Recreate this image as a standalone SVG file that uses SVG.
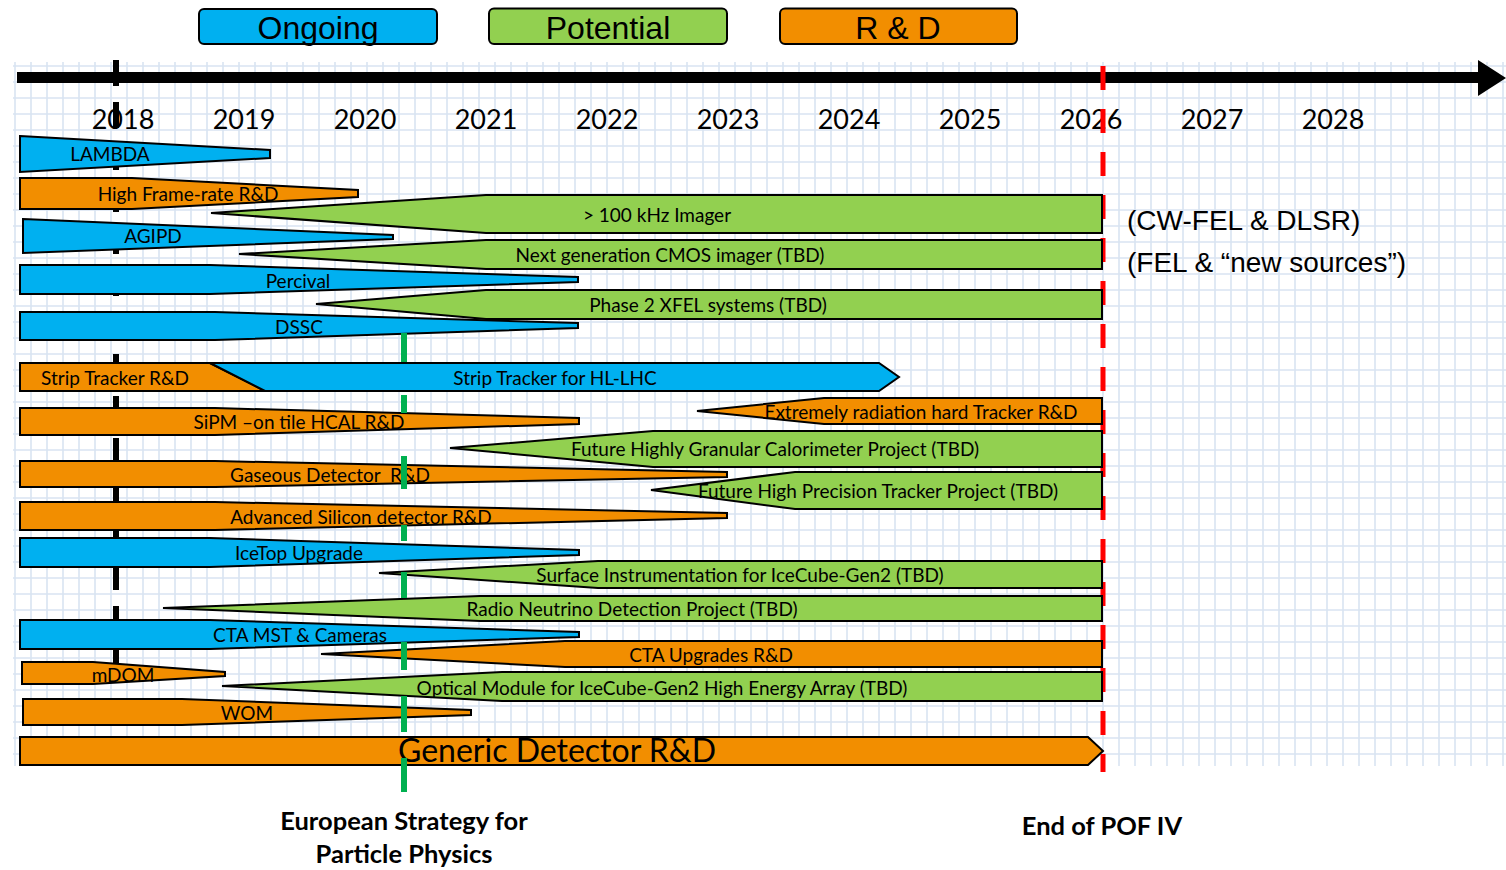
<svg xmlns="http://www.w3.org/2000/svg" width="1506" height="870" viewBox="0 0 1506 870">
<defs>
<pattern id="grid" patternUnits="userSpaceOnUse" x="13" y="62" width="16" height="16">
<path d="M2 0V16M0 4H16" stroke="#d9e4f2" stroke-width="1.6" fill="none"/>
</pattern>
<style>
.bar{stroke:#000;stroke-width:2;stroke-linejoin:miter}
.b{fill:#00b0f0}.g{fill:#92d050}.o{fill:#f28e00}
.lbl{font-family:Lato,"Liberation Sans",sans-serif;font-size:19px;fill:#000;text-anchor:middle}
.yr{font-family:Lato,"Liberation Sans",sans-serif;font-size:27px;fill:#000;text-anchor:middle}
.leg{font-family:"Liberation Sans",Arial,sans-serif;font-size:32px;fill:#000;text-anchor:middle}
.side{font-family:"Liberation Sans",Arial,sans-serif;font-size:28px;fill:#000}
.note{font-family:Lato,"Liberation Sans",sans-serif;font-size:25.5px;font-weight:bold;fill:#000;text-anchor:middle}
</style>
</defs>
<rect x="13" y="62" width="1493" height="704" fill="url(#grid)"/>
<g id="legend">
<g id="leg-ongoing"><rect x="199" y="9" width="238" height="35" rx="5" class="bar b"/><text x="318" y="38.5" class="leg">Ongoing</text></g>
<g id="leg-potential"><rect x="489" y="8.5" width="238" height="35.5" rx="5" class="bar g"/><text x="608" y="38.5" class="leg">Potential</text></g>
<g id="leg-rd"><rect x="780" y="8.5" width="237" height="35.5" rx="5" class="bar o"/><text x="898" y="38.5" class="leg">R &amp; D</text></g>
</g>
<g id="axis">
<rect x="17" y="72" width="1463" height="11" fill="#000"/>
<polygon points="1478,60 1506,78 1478,96" fill="#000"/>
</g>
<g id="years">
<text x="123" y="129" class="yr">2018</text>
<text x="244" y="129" class="yr">2019</text>
<text x="365" y="129" class="yr">2020</text>
<text x="486" y="129" class="yr">2021</text>
<text x="607" y="129" class="yr">2022</text>
<text x="728" y="129" class="yr">2023</text>
<text x="849" y="129" class="yr">2024</text>
<text x="970" y="129" class="yr">2025</text>
<text x="1091" y="129" class="yr">2026</text>
<text x="1212" y="129" class="yr">2027</text>
<text x="1333" y="129" class="yr">2028</text>
</g>
<g id="connectors">
<line x1="116" y1="60" x2="116" y2="676" stroke="#000" stroke-width="6" stroke-dasharray="26 16"/>
<line x1="1103" y1="66" x2="1103" y2="772" stroke="#ff0000" stroke-width="5" stroke-dasharray="24 19"/>
</g>
<g id="lambda"><polygon class="bar b" points="20,136 270,150 270,158 20,172"/><text x="110" y="161" class="lbl">LAMBDA</text></g>
<g id="highframe"><polygon class="bar o" points="20,178 132,178 358,190 358,197 132,209 20,209"/><text x="188" y="201" class="lbl">High Frame-rate R&amp;D</text></g>
<g id="imager100"><polygon class="bar g" points="211,213 486,195 1102,195 1102,233 486,233"/><text x="657" y="222" class="lbl">&gt; 100 kHz Imager</text></g>
<g id="agipd"><polygon class="bar b" points="23,219 393,235 393,239 23,253"/><text x="153" y="243" class="lbl">AGIPD</text></g>
<g id="cmos"><polygon class="bar g" points="239,254 486,240 1102,240 1102,269 486,269"/><text x="670" y="262" class="lbl">Next generation CMOS imager (TBD)</text></g>
<g id="percival"><polygon class="bar b" points="20,265 210,265 578,277 578,282 210,294 20,294"/><text x="298" y="288" class="lbl">Percival</text></g>
<g id="xfel2"><polygon class="bar g" points="316,304 486,290 1102,290 1102,319 486,319"/><text x="708" y="312" class="lbl">Phase 2 XFEL systems (TBD)</text></g>
<g id="dssc"><polygon class="bar b" points="20,312 215,312 578,323 578,328 215,340 20,340"/><text x="299" y="334" class="lbl">DSSC</text></g>
<g id="striptracker">
<polygon class="bar o" points="20,363 210,363 265,391 20,391"/>
<polygon class="bar b" points="210,363 879,363 899,377 879,391 265,391"/>
<text x="115" y="385" class="lbl">Strip Tracker R&amp;D</text>
<text x="555" y="385" class="lbl">Strip Tracker for HL-LHC</text>
</g>
<g id="radhard"><polygon class="bar o" points="697,411 824,398 1102,398 1102,424 824,424"/><text x="921" y="419" class="lbl">Extremely radiation hard Tracker R&amp;D</text></g>
<g id="sipm"><polygon class="bar o" points="20,408 215,408 579,418 579,424 215,435 20,435"/><text x="299" y="429" class="lbl">SiPM –on tile HCAL R&amp;D</text></g>
<g id="calo"><polygon class="bar g" points="450,448 653,431 1102,431 1102,467 653,467"/><text x="775" y="456" class="lbl">Future Highly Granular Calorimeter Project (TBD)</text></g>
<g id="gaseous"><polygon class="bar o" points="20,461 215,461 727,472 727,477 215,487 20,487"/><text x="330" y="482" class="lbl" xml:space="preserve">Gaseous Detector  R&amp;D</text></g>
<g id="hptracker"><polygon class="bar g" points="651,490 795,472 1102,472 1102,509 795,509"/><text x="878" y="498" class="lbl">Future High Precision Tracker Project (TBD)</text></g>
<g id="advsilicon"><polygon class="bar o" points="20,502 215,502 727,513 727,518 215,530 20,530"/><text x="361" y="524" class="lbl">Advanced Silicon detector R&amp;D</text></g>
<g id="icetop"><polygon class="bar b" points="20,538 210,538 579,550 579,555 210,567 20,567"/><text x="299" y="560" class="lbl">IceTop Upgrade</text></g>
<g id="surface"><polygon class="bar g" points="379,573 598,561 1102,561 1102,588 598,588"/><text x="740" y="582" class="lbl">Surface Instrumentation for IceCube-Gen2 (TBD)</text></g>
<g id="radio"><polygon class="bar g" points="163,608 480,596 1102,596 1102,621 480,621"/><text x="632" y="616" class="lbl">Radio Neutrino Detection Project (TBD)</text></g>
<g id="ctamst"><polygon class="bar b" points="20,620 210,620 579,632 579,637 210,649 20,649"/><text x="300" y="642" class="lbl">CTA MST &amp; Cameras</text></g>
<g id="ctaupg"><polygon class="bar o" points="321,654 565,641 1102,641 1102,667 565,667"/><text x="711" y="662" class="lbl">CTA Upgrades R&amp;D</text></g>
<g id="mdom"><polygon class="bar o" points="22,662 93,662 225,672 225,676 93,684 22,684"/><text x="123" y="682" class="lbl">mDOM</text></g>
<g id="optical"><polygon class="bar g" points="222,686 502,672 1102,672 1102,701 502,701"/><text x="662" y="695" class="lbl">Optical Module for IceCube-Gen2 High Energy Array (TBD)</text></g>
<g id="wom"><polygon class="bar o" points="23,699 182,699 471,710 471,715 182,725 23,725"/><text x="247" y="720" class="lbl">WOM</text></g>
<g id="generic"><polygon class="bar o" points="20,737 1088,737 1103,751 1088,765 20,765"/><text x="557" y="762" class="lbl" style="font-size:32px">Generic Detector R&amp;D</text></g>
<g id="esp-line" stroke="#00b050" stroke-width="6">
<line x1="404" y1="333" x2="404" y2="362"/>
<line x1="404" y1="395" x2="404" y2="413"/>
<line x1="404" y1="456" x2="404" y2="489"/>
<line x1="404" y1="525" x2="404" y2="541"/>
<line x1="404" y1="572" x2="404" y2="598"/>
<line x1="404" y1="642" x2="404" y2="670"/>
<line x1="404" y1="696" x2="404" y2="732"/>
<line x1="404" y1="758" x2="404" y2="792"/>
</g>
<g id="side-notes">
<text x="1127" y="230" class="side">(CW-FEL &amp; DLSR)</text>
<text x="1127" y="272" class="side">(FEL &amp; “new sources”)</text>
</g>
<g id="milestones">
<text x="404" y="830" class="note">European Strategy for</text>
<text x="404" y="863" class="note">Particle Physics</text>
<text x="1102" y="835" class="note">End of POF IV</text>
</g>
</svg>
